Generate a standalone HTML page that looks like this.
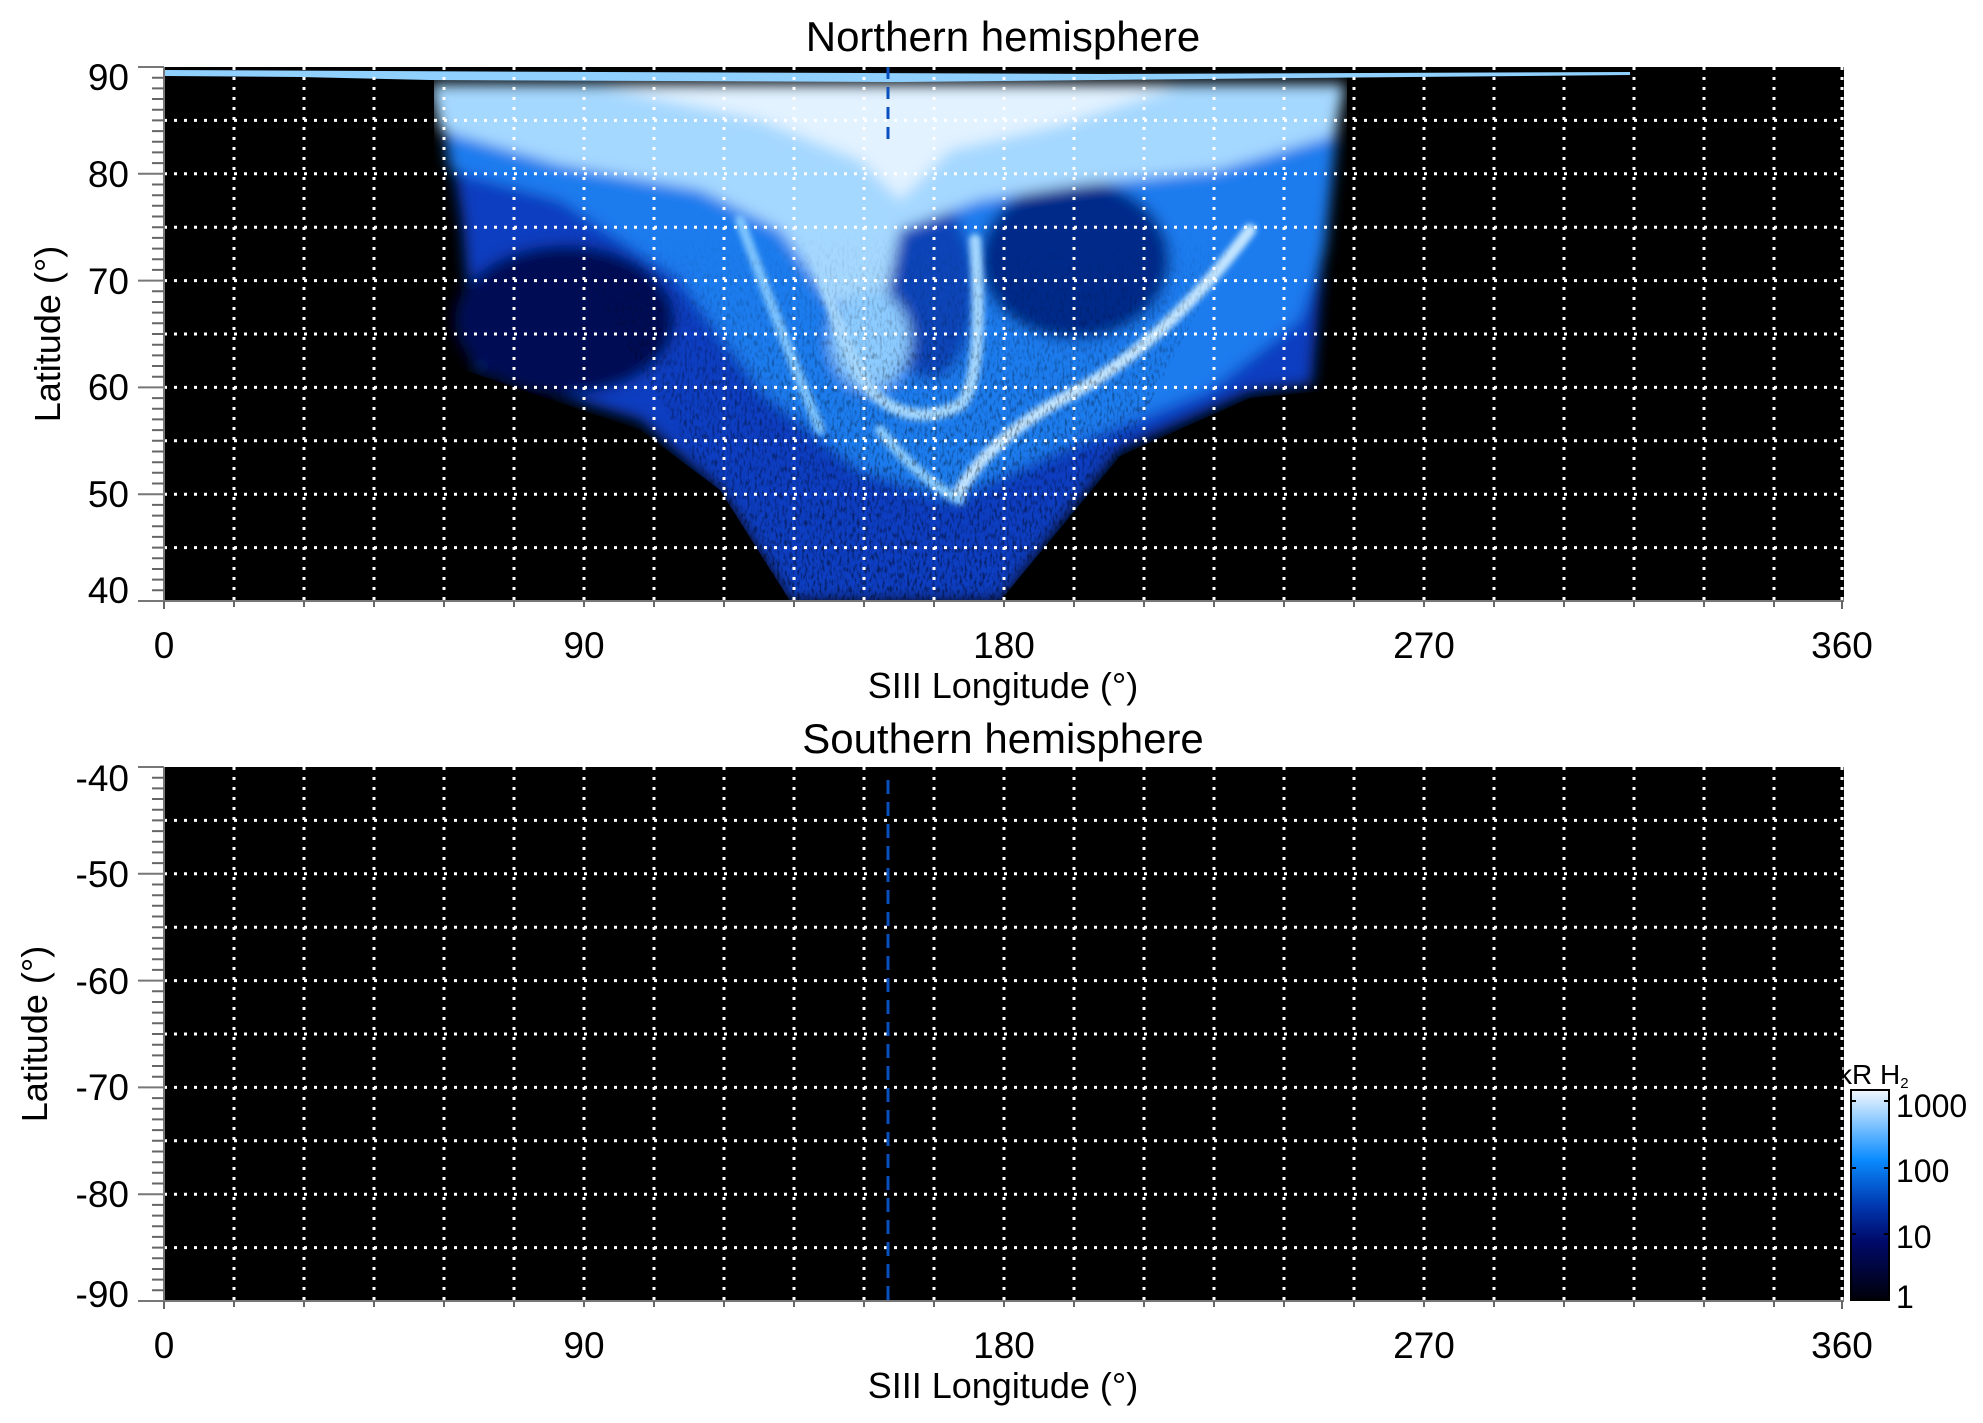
<!DOCTYPE html>
<html><head><meta charset="utf-8"><style>
html,body{margin:0;padding:0;background:#fff;}
svg{display:block;}
text{font-family:"Liberation Sans",Arial,sans-serif;fill:#000;}
</style></head><body>
<svg width="1983" height="1423" viewBox="0 0 1983 1423" xmlns="http://www.w3.org/2000/svg">
<defs>
<filter id="b6" x="-20%" y="-20%" width="140%" height="140%"><feGaussianBlur stdDeviation="7"/></filter>
<filter id="b3" x="-20%" y="-20%" width="140%" height="140%"><feGaussianBlur stdDeviation="3"/></filter>
<filter id="noise" x="0" y="0" width="100%" height="100%">
<feTurbulence type="fractalNoise" baseFrequency="0.4 0.15" numOctaves="2" seed="4" result="t"/>
<feColorMatrix in="t" type="matrix" values="0 0 0 0 0  0 0 0 0 0  0 0 0 0 0  0 0 0 -3.2 1.7" result="n"/>
<feComposite in="n" in2="SourceGraphic" operator="in"/>
</filter>
<clipPath id="cp1"><rect x="164" y="67" width="1680" height="534"/></clipPath>
<linearGradient id="fade" x1="0" y1="0" x2="0" y2="1">
<stop offset="0" stop-color="#fff" stop-opacity="0"/>
<stop offset="0.4" stop-color="#fff" stop-opacity="0.6"/>
<stop offset="1" stop-color="#fff" stop-opacity="1"/>
</linearGradient>
<mask id="vmask" maskUnits="userSpaceOnUse" x="164" y="67" width="1680" height="534">
<polygon fill="url(#fade)" points="560,230 1240,230 1120,460 1000,601 790,601 700,470"/>
</mask>
<linearGradient id="cb" x1="0" y1="0" x2="0" y2="1">
<stop offset="0" stop-color="#f2f8ff"/>
<stop offset="0.12" stop-color="#9fd2ff"/>
<stop offset="0.33" stop-color="#0a8cff"/>
<stop offset="0.55" stop-color="#0038b0"/>
<stop offset="0.72" stop-color="#000a6a"/>
<stop offset="1" stop-color="#000008"/>
</linearGradient>
</defs>

<!-- TOP PANEL -->
<rect x="164" y="67" width="1680" height="534" fill="#000"/>
<g clip-path="url(#cp1)">
 <g filter="url(#b6)">
  <polygon fill="#0a3cc0" points="445,110 1335,110 1312,385 1250,392 1120,450 1000,601 790,601 720,490 640,420 475,370 462,220"/>
  <polygon fill="#1a7cee" points="440,100 1340,100 1325,250 1300,320 1210,390 1060,450 950,500 860,470 760,390 680,280 560,200 450,170"/>
  <ellipse cx="1075" cy="260" rx="95" ry="80" fill="#052a8a"/>
  <ellipse cx="565" cy="320" rx="110" ry="75" fill="#020f55"/>
  <ellipse cx="930" cy="290" rx="45" ry="90" fill="#0b44b8"/>
  <polygon fill="#a5d8ff" points="430,84 1345,84 1335,135 1220,170 1080,185 980,200 900,230 880,330 830,300 780,230 700,190 560,165 440,130"/>
  <polygon fill="#e2f2ff" points="600,86 1180,86 1060,125 950,150 900,200 860,160 760,120"/>
  <ellipse cx="870" cy="340" rx="40" ry="50" fill="#8ccbff"/>
 </g>
 <g filter="url(#b3)" fill="none" stroke-linecap="round">
  <path d="M1250,230 Q1160,350 1060,400 Q990,440 960,490" stroke="#c4e6ff" stroke-width="12"/>
  <path d="M800,180 Q830,330 870,390 Q910,430 960,405 Q985,380 975,240" stroke="#a5d8ff" stroke-width="12"/>
  <path d="M740,220 Q780,330 820,430" stroke="#80c6ff" stroke-width="10"/>
  <path d="M880,430 Q920,480 960,500" stroke="#8fcfff" stroke-width="10"/>
 </g>
 <g mask="url(#vmask)">
  <rect x="164" y="67" width="1680" height="534" fill="#000" filter="url(#noise)" opacity="0.5"/>
 </g>
 <rect x="164" y="67" width="270" height="534" fill="#000"/>
 <rect x="1347" y="67" width="500" height="534" fill="#000"/>
 <polygon fill="#000" points="164,250 470,372 640,430 720,490 790,601 164,601"/>
 <polygon fill="#000" points="1844,395 1312,392 1250,398 1120,456 1000,601 1844,601"/>
 <polygon fill="#8fd0ff" points="164,70 600,72 1100,74 1630,72 1630,75 1300,78 900,82 430,80 300,77 164,76"/>
</g>
<line x1="888" y1="67" x2="888" y2="140" stroke="#0a4fc0" stroke-width="3" stroke-dasharray="12 8"/>

<!-- grids -->
<g stroke="#fff" stroke-width="3" stroke-dasharray="3 7">
 <g id="vg">
  <line x1="234" y1="67" x2="234" y2="601"/><line x1="304" y1="67" x2="304" y2="601"/><line x1="374" y1="67" x2="374" y2="601"/><line x1="444" y1="67" x2="444" y2="601"/><line x1="514" y1="67" x2="514" y2="601"/><line x1="584" y1="67" x2="584" y2="601"/><line x1="654" y1="67" x2="654" y2="601"/><line x1="724" y1="67" x2="724" y2="601"/><line x1="794" y1="67" x2="794" y2="601"/><line x1="864" y1="67" x2="864" y2="601"/><line x1="934" y1="67" x2="934" y2="601"/><line x1="1004" y1="67" x2="1004" y2="601"/><line x1="1074" y1="67" x2="1074" y2="601"/><line x1="1144" y1="67" x2="1144" y2="601"/><line x1="1214" y1="67" x2="1214" y2="601"/><line x1="1284" y1="67" x2="1284" y2="601"/><line x1="1354" y1="67" x2="1354" y2="601"/><line x1="1424" y1="67" x2="1424" y2="601"/><line x1="1494" y1="67" x2="1494" y2="601"/><line x1="1564" y1="67" x2="1564" y2="601"/><line x1="1634" y1="67" x2="1634" y2="601"/><line x1="1704" y1="67" x2="1704" y2="601"/><line x1="1774" y1="67" x2="1774" y2="601"/><line x1="1842" y1="67" x2="1842" y2="601"/>
 </g>
 <line x1="164" y1="120.4" x2="1844" y2="120.4"/><line x1="164" y1="173.8" x2="1844" y2="173.8"/><line x1="164" y1="227.2" x2="1844" y2="227.2"/><line x1="164" y1="280.6" x2="1844" y2="280.6"/><line x1="164" y1="334" x2="1844" y2="334"/><line x1="164" y1="387.4" x2="1844" y2="387.4"/><line x1="164" y1="440.8" x2="1844" y2="440.8"/><line x1="164" y1="494.2" x2="1844" y2="494.2"/><line x1="164" y1="547.6" x2="1844" y2="547.6"/>
</g>

<!-- BOTTOM PANEL -->
<rect x="164" y="767" width="1680" height="534" fill="#000"/>
<g stroke="#fff" stroke-width="3" stroke-dasharray="3 7">
 <use href="#vg" transform="translate(0,700)"/>
 <line x1="164" y1="820.4" x2="1844" y2="820.4"/><line x1="164" y1="873.8" x2="1844" y2="873.8"/><line x1="164" y1="927.2" x2="1844" y2="927.2"/><line x1="164" y1="980.6" x2="1844" y2="980.6"/><line x1="164" y1="1034" x2="1844" y2="1034"/><line x1="164" y1="1087.4" x2="1844" y2="1087.4"/><line x1="164" y1="1140.8" x2="1844" y2="1140.8"/><line x1="164" y1="1194.2" x2="1844" y2="1194.2"/><line x1="164" y1="1247.6" x2="1844" y2="1247.6"/>
</g>
<line x1="888" y1="780" x2="888" y2="1301" stroke="#0a4fc0" stroke-width="3" stroke-dasharray="14 8"/>

<!-- axes ticks -->
<g stroke="#777" stroke-width="2">
 <line x1="164" y1="601" x2="1844" y2="601"/><line x1="164" y1="1301" x2="1844" y2="1301"/>
 <line x1="164" y1="67" x2="164" y2="601"/><line x1="164" y1="767" x2="164" y2="1301"/>
 <line x1="138" y1="67" x2="164" y2="67"/><line x1="138" y1="173.8" x2="164" y2="173.8"/><line x1="138" y1="280.6" x2="164" y2="280.6"/><line x1="138" y1="387.4" x2="164" y2="387.4"/><line x1="138" y1="494.2" x2="164" y2="494.2"/><line x1="138" y1="601" x2="164" y2="601"/>
 <line x1="138" y1="767" x2="164" y2="767"/><line x1="138" y1="873.8" x2="164" y2="873.8"/><line x1="138" y1="980.6" x2="164" y2="980.6"/><line x1="138" y1="1087.4" x2="164" y2="1087.4"/><line x1="138" y1="1194.2" x2="164" y2="1194.2"/><line x1="138" y1="1301" x2="164" y2="1301"/>
</g>
<g stroke="#666" stroke-width="2">
 <path d="M152 77.7h12M152 88.4h12M152 99h12M152 109.7h12M152 120.4h12M152 131.1h12M152 141.8h12M152 152.4h12M152 163.1h12M152 184.5h12M152 195.2h12M152 205.8h12M152 216.5h12M152 227.2h12M152 237.9h12M152 248.6h12M152 259.2h12M152 269.9h12M152 291.3h12M152 302h12M152 312.6h12M152 323.3h12M152 334h12M152 344.7h12M152 355.4h12M152 366h12M152 376.7h12M152 398.1h12M152 408.8h12M152 419.4h12M152 430.1h12M152 440.8h12M152 451.5h12M152 462.2h12M152 472.8h12M152 483.5h12M152 504.9h12M152 515.6h12M152 526.2h12M152 536.9h12M152 547.6h12M152 558.3h12M152 569h12M152 579.6h12M152 590.3h12"/>
 <path d="M152 777.7h12M152 788.4h12M152 799h12M152 809.7h12M152 820.4h12M152 831.1h12M152 841.8h12M152 852.4h12M152 863.1h12M152 884.5h12M152 895.2h12M152 905.8h12M152 916.5h12M152 927.2h12M152 937.9h12M152 948.6h12M152 959.2h12M152 969.9h12M152 991.3h12M152 1002h12M152 1012.6h12M152 1023.3h12M152 1034h12M152 1044.7h12M152 1055.4h12M152 1066h12M152 1076.7h12M152 1098.1h12M152 1108.8h12M152 1119.4h12M152 1130.1h12M152 1140.8h12M152 1151.5h12M152 1162.2h12M152 1172.8h12M152 1183.5h12M152 1204.9h12M152 1215.6h12M152 1226.2h12M152 1236.9h12M152 1247.6h12M152 1258.3h12M152 1269h12M152 1279.6h12M152 1290.3h12"/>
 <path d="M164 601v8M234 601v6M304 601v6M374 601v6M444 601v6M514 601v6M584 601v6M654 601v6M724 601v6M794 601v6M864 601v6M934 601v6M1004 601v6M1074 601v6M1144 601v6M1214 601v6M1284 601v6M1354 601v6M1424 601v6M1494 601v6M1564 601v6M1634 601v6M1704 601v6M1774 601v6M1842 601v8"/>
 <path d="M164 1301v8M234 1301v6M304 1301v6M374 1301v6M444 1301v6M514 1301v6M584 1301v6M654 1301v6M724 1301v6M794 1301v6M864 1301v6M934 1301v6M1004 1301v6M1074 1301v6M1144 1301v6M1214 1301v6M1284 1301v6M1354 1301v6M1424 1301v6M1494 1301v6M1564 1301v6M1634 1301v6M1704 1301v6M1774 1301v6M1842 1301v8"/>
</g>

<!-- labels -->
<g font-size="42" text-anchor="middle">
 <text x="1003" y="51">Northern hemisphere</text>
 <text x="1003" y="753">Southern hemisphere</text>
</g>
<g font-size="37" text-anchor="end">
 <text x="129" y="90">90</text><text x="129" y="187">80</text><text x="129" y="294">70</text><text x="129" y="400">60</text><text x="129" y="507">50</text><text x="129" y="603">40</text>
 <text x="129" y="791">-40</text><text x="129" y="887">-50</text><text x="129" y="994">-60</text><text x="129" y="1100">-70</text><text x="129" y="1207">-80</text><text x="129" y="1307">-90</text>
</g>
<g font-size="37" text-anchor="middle">
 <text x="164" y="658">0</text><text x="584" y="658">90</text><text x="1004" y="658">180</text><text x="1424" y="658">270</text><text x="1842" y="658">360</text>
 <text x="164" y="1358">0</text><text x="584" y="1358">90</text><text x="1004" y="1358">180</text><text x="1424" y="1358">270</text><text x="1842" y="1358">360</text>
</g>
<g font-size="36" text-anchor="middle">
 <text x="1003" y="698">SIII Longitude (°)</text>
 <text x="1003" y="1398">SIII Longitude (°)</text>
 <text transform="translate(60,334) rotate(-90)">Latitude (°)</text>
 <text transform="translate(47,1034) rotate(-90)">Latitude (°)</text>
</g>

<!-- colorbar -->
<rect x="1851" y="1090" width="38" height="210" fill="url(#cb)" stroke="#000" stroke-width="2"/>
<g stroke="#000" stroke-width="2"><path d="M1884 1101h5M1884 1168h5M1884 1234h5M1856 1101h-5M1856 1168h-5M1856 1234h-5"/></g>
<text x="1838" y="1084" font-size="28">kR H<tspan font-size="15" dy="4">2</tspan></text>
<g font-size="32">
 <text x="1896" y="1117">1000</text><text x="1896" y="1182">100</text><text x="1896" y="1248">10</text><text x="1896" y="1308">1</text>
</g>
</svg>
</body></html>
